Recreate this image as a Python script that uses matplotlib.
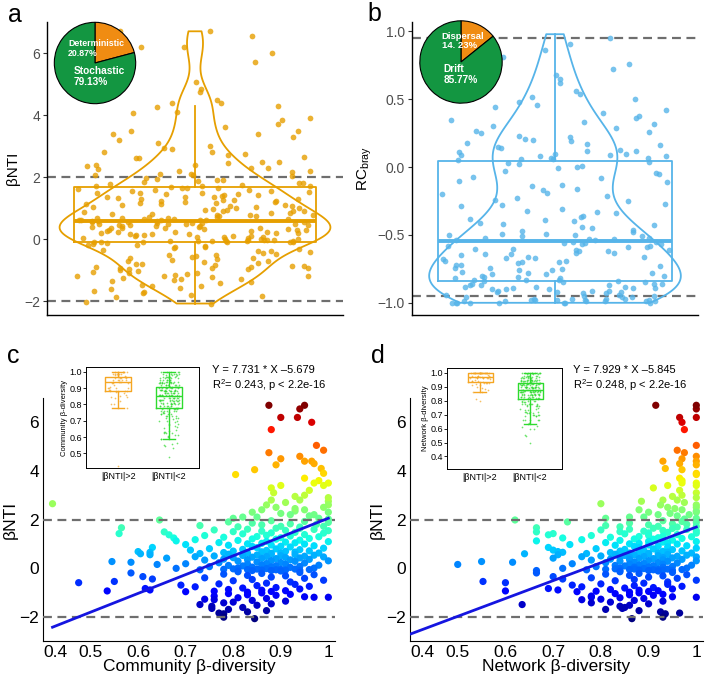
import numpy as np
import matplotlib
matplotlib.use('Agg')
import matplotlib.pyplot as plt

plt.rcParams['font.family'] = ['Liberation Sans', 'DejaVu Sans']
plt.rcParams['mathtext.fontset'] = 'custom'
plt.rcParams['mathtext.rm'] = 'Liberation Sans'
plt.rcParams['mathtext.it'] = 'Liberation Sans:italic'

# ---- data ----
# betaNTI of each pair (shared by panels a, c, d), with the community / network
# beta-diversity of the same pair
bnti = [
    6.70, 6.55, 6.70, 6.20, 6.20, 6.00, 5.70, 5.05,
    4.85, 4.75, 4.60, 4.50, 4.40, 4.40, 4.30, 4.25, 4.10, 4.05,
    3.90, 2.75, 3.85, 3.70, 2.35, 3.60, 3.50, 3.50, 3.40, 3.40, 3.30, 3.20, 3.10, 3.00,
    2.95, 2.90, 2.80, 2.80, 2.70, 2.65, 2.60, 2.60, 2.50, 2.50,
    2.45, 2.40, 2.40, 2.30, 2.30, 2.25, 2.20, 2.20, 2.15, 2.10,
    2.10, 2.05, 2.05, 2.02,
    1.98, 1.95, 1.92, 1.90, 1.88, 1.85, 1.82, 1.80, 1.78, 1.75, 1.72, 1.72, 1.70, 1.69,
    1.66, 1.64, 1.63, 1.60, 1.59, 1.57, 1.55, 1.54, 1.52, 1.50,
    1.49, 1.47, 1.45, 1.44, 1.42, 1.41, 1.38, 1.37, 1.35, 1.34,
    1.32, 1.30, 1.29, 1.27, 1.25, 1.24, 1.22, 1.20, 1.19, 1.17,
    1.15, 1.14, 1.12, 1.10, 1.09, 1.07, 1.05, 1.04, 1.02, 1.00,
    0.99, 0.97, 0.95, 0.94, 0.92, 0.90, 0.89, 0.87, 0.85, 0.84,
    0.82, 0.80, 0.79, 0.77, 0.76, 0.74, 0.73, 0.71, 0.70, 0.69,
    0.68, 0.67, 0.66, 0.65, 0.64, 0.63, 0.62, 0.62, 0.61, 0.60,
    0.59, 0.58, 0.57, 0.56, 0.55, 0.54, 0.53, 0.52, 0.51, 0.50,
    0.49, 0.48, 0.47, 0.46, 0.45, 0.44, 0.43, 0.42, 0.41, 0.40,
    0.39, 0.37, 0.36, 0.35, 0.34, 0.33, 0.31, 0.30, 0.29, 0.28,
    0.27, 0.25, 0.24, 0.23, 0.22, 0.21, 0.19, 0.18, 0.17, 0.16,
    0.15, 0.13, 0.12, 0.11, 0.10, 0.09, 0.07, 0.06, 0.05, 0.04,
    0.03, 0.01, 0.00, -0.01, -0.02, -0.03, -0.04, -0.04, -0.05, -0.05,
    -0.06, -0.06, -0.07, -0.07, -0.08, -0.08, -0.09, -0.09, -0.10, -0.10,
    -0.12, -0.15, -0.18, -0.20, -0.22, -0.25, -0.27, -0.30, -0.32, -0.35,
    -0.37, -0.40, -0.42, -0.45, -0.47, -0.50, -0.52, -0.55, -0.57, -0.60,
    -0.62, -0.65, -0.67, -0.70, -0.72, -0.75, -0.77, -0.80, -0.82, -0.84,
    -0.86, -0.88, -0.90, -0.91, -0.93, -0.94, -0.95, -0.96, -0.97, -0.99,
    -1.02, -1.05, -1.08, -1.10, -1.12, -1.15, -1.18, -1.20, -1.20, -1.22,
    -1.25, -1.28, -1.30, -1.33, -1.36, -1.40, -1.43, -1.47, -1.50, -1.53,
    -1.57, -1.62, -1.66, -1.70, -1.75, -1.80, -1.85, -1.88,
    -2.02, -2.08,
]
comm_div = [
    0.875, 0.94, 0.95, 0.90, 0.935, 0.965, 0.88, 0.975,
    0.99, 0.875, 0.94, 0.90, 0.95, 0.965, 0.97, 0.89, 0.985, 0.845,
    0.99, 1.00, 0.805, 0.95, 0.93, 0.98, 0.97, 1.00, 0.90, 0.99, 0.88, 0.96, 0.885, 0.95,
    0.93, 1.00, 0.88, 0.94, 0.91, 0.42, 0.87, 1.00, 0.89, 0.99,
    0.93, 0.86, 0.95, 0.84, 1.00, 0.90, 0.97, 0.92, 0.96, 0.85,
    0.82, 0.98, 0.80, 1.00,
    0.645, 0.88, 0.95, 0.79, 1.00, 0.84, 0.92, 0.975, 0.86, 0.73, 0.90, 0.99, 0.81, 0.94,
    0.565, 0.89, 0.94, 0.83, 0.97, 0.76, 0.91, 1.00, 0.86, 0.80,
    0.655, 0.93, 0.88, 0.99, 0.56, 0.82, 0.95, 0.665, 0.87, 0.74,
    0.92, 0.85, 0.98, 0.78, 0.90, 0.675, 0.96, 0.84, 0.89, 0.72,
    0.94, 0.81, 0.68, 0.87, 1.00, 0.91, 0.77, 0.93, 0.86, 0.83,
    0.95, 0.70, 0.88, 0.79, 0.97, 0.90, 0.84, 0.92, 0.63, 0.85,
    0.99, 0.75, 0.89, 0.82, 0.94, 0.71, 0.87, 0.96, 0.80, 0.91,
    0.60, 0.86, 0.93, 0.625, 0.78, 0.90, 0.98, 0.83, 0.88, 0.73,
    0.605, 0.88, 0.79, 0.93, 0.625, 0.85, 0.97, 0.82, 0.90, 0.76,
    0.95, 0.87, 0.72, 0.99, 0.84, 0.91, 0.80, 0.94, 0.66, 0.86,
    0.89, 0.78, 0.96, 0.83, 0.92, 0.74, 0.88, 1.00, 0.81, 0.93,
    0.545, 0.85, 0.585, 0.90, 0.77, 0.95, 0.87, 0.70, 0.83, 0.91,
    0.64, 0.86, 0.98, 0.79, 0.89, 0.82, 0.94, 0.75, 0.88, 0.84,
    0.92, 0.81, 0.97, 0.68, 0.87, 0.80, 0.93, 0.85, 0.90, 0.78,
    0.96, 0.83, 0.89, 0.73, 0.86, 0.91, 0.81, 0.94, 0.88, 0.84,
    0.90, 0.81, 0.94, 0.585, 0.86, 0.78, 0.97, 0.83, 0.91, 0.61,
    0.88, 0.74, 0.95, 0.63, 0.84, 0.99, 0.80, 0.55, 0.92, 0.475,
    0.87, 0.77, 0.93, 0.69, 0.85, 0.96, 0.72, 0.89, 0.82, 0.615,
    0.94, 0.79, 0.625, 0.86, 0.91, 0.535, 0.76, 0.88, 0.70, 0.83,
    0.86, 0.79, 0.92, 0.83, 0.89, 0.76, 0.95, 0.97, 1.00, 0.81,
    0.87, 0.74, 0.76, 0.84, 0.91, 0.80, 0.78, 0.88, 0.73, 0.85,
    0.755, 0.82, 0.755, 0.79, 0.87, 0.83, 0.77, 0.78,
    0.78, 0.845,
]
net_div = [
    0.915, 1.00, 1.00, 0.965, 1.00, 0.97, 0.975, 1.00,
    0.96, 0.975, 1.00, 0.97, 0.93, 1.00, 0.965, 1.00, 0.935, 0.97,
    1.00, 0.885, 1.00, 0.965, 1.00, 0.97, 1.00, 0.97, 0.94, 1.00, 0.91, 0.965, 1.00, 0.97,
    0.95, 1.00, 0.93, 0.96, 0.975, 0.80, 0.925, 1.00, 0.94, 1.00,
    0.955, 0.88, 0.97, 0.90, 1.00, 0.945, 0.985, 0.92, 0.96, 0.89,
    0.86, 1.00, 0.81, 0.975,
    0.62, 0.93, 0.97, 0.73, 1.00, 0.86, 0.95, 0.98, 0.90, 0.81, 0.92, 1.00, 0.84, 0.96,
    0.665, 0.91, 0.95, 0.86, 0.98, 0.80, 0.93, 1.00, 0.89, 0.84,
    0.665, 0.94, 0.90, 1.00, 0.70, 0.85, 0.96, 0.69, 0.90, 0.78,
    0.93, 0.88, 0.99, 0.82, 0.92, 0.72, 0.97, 0.87, 0.91, 0.76,
    0.95, 0.84, 0.665, 0.90, 1.00, 0.93, 0.81, 0.94, 0.88, 0.86,
    0.96, 0.735, 0.90, 0.83, 0.98, 0.92, 0.87, 0.94, 0.69, 0.88,
    1.00, 0.79, 0.91, 0.85, 0.95, 0.70, 0.89, 0.97, 0.84, 0.93,
    0.71, 0.88, 0.94, 0.72, 0.82, 0.92, 0.99, 0.86, 0.90, 0.77,
    0.64, 0.90, 0.83, 0.94, 0.71, 0.87, 0.98, 0.85, 0.92, 0.80,
    0.96, 0.89, 0.76, 1.00, 0.86, 0.93, 0.84, 0.95, 0.70, 0.88,
    0.91, 0.82, 0.97, 0.86, 0.93, 0.78, 0.90, 1.00, 0.84, 0.94,
    0.55, 0.87, 0.615, 0.92, 0.81, 0.96, 0.89, 0.74, 0.86, 0.93,
    0.50, 0.88, 0.99, 0.83, 0.91, 0.85, 0.95, 0.79, 0.90, 0.87,
    0.93, 0.84, 0.98, 0.72, 0.89, 0.83, 0.94, 0.87, 0.92, 0.81,
    0.97, 0.86, 0.91, 0.77, 0.88, 0.93, 0.84, 0.95, 0.90, 0.665,
    0.92, 0.84, 0.95, 0.665, 0.88, 0.81, 0.98, 0.86, 0.93, 0.70,
    0.90, 0.78, 0.96, 0.72, 0.87, 1.00, 0.83, 0.553, 0.94, 0.60,
    0.89, 0.80, 0.94, 0.74, 0.87, 0.97, 0.76, 0.91, 0.85, 0.69,
    0.95, 0.82, 0.71, 0.88, 0.92, 0.60, 0.79, 0.90, 0.75, 0.86,
    0.88, 0.83, 0.93, 0.86, 0.91, 0.78, 0.95, 0.78, 1.00, 0.84,
    0.89, 0.80, 0.76, 0.87, 0.93, 0.82, 0.78, 0.90, 0.635, 0.86,
    0.84, 0.85, 0.845, 0.81, 0.88, 0.925, 0.965, 0.935,
    0.93, 0.865,
]
# RC_bray of the pairs with |betaNTI| < 2 (panel b)
rc_bray = [
    0.98, 0.95, 0.91, 0.86, 0.81, 0.76, 0.72, 0.68, 0.65, 0.62,
    0.59, 0.56, 0.54, 0.52, 0.50, 0.48, 0.46, 0.44, 0.42, 0.40,
    0.38, 0.36, 0.35, 0.33, 0.32, 0.30, 0.29, 0.27, 0.26, 0.25,
    0.23, 0.22, 0.21, 0.20, 0.19, 0.18, 0.17, 0.16, 0.15, 0.14,
    0.13, 0.12, 0.12, 0.11, 0.10, 0.10, 0.09, 0.09, 0.08, 0.08,
    0.07, 0.07, 0.06, 0.06, 0.05,
    0.04, 0.03, 0.02, 0.01, 0.00, -0.01, -0.03, -0.04, -0.05, -0.07,
    -0.08, -0.10, -0.11, -0.13, -0.14, -0.16, -0.17, -0.19, -0.20, -0.21,
    -0.23, -0.24, -0.25, -0.27, -0.28, -0.29, -0.31, -0.32, -0.33, -0.34,
    -0.36, -0.37, -0.38, -0.39, -0.40, -0.41, -0.42, -0.43, -0.44, -0.45,
    -0.46, -0.47, -0.48, -0.49, -0.49, -0.50, -0.50, -0.51, -0.51, -0.52,
    -0.52, -0.53, -0.53, -0.54, -0.54,
    -0.55, -0.55, -0.56, -0.56, -0.57, -0.57, -0.58, -0.58, -0.59, -0.59,
    -0.60, -0.60, -0.61, -0.61, -0.62, -0.62, -0.63, -0.63, -0.64, -0.64,
    -0.65, -0.66, -0.66, -0.67, -0.67, -0.68, -0.69, -0.69, -0.70, -0.70,
    -0.71, -0.72, -0.72, -0.73, -0.74, -0.74, -0.75, -0.76, -0.76, -0.77,
    -0.78, -0.78, -0.79, -0.79, -0.80, -0.80, -0.81, -0.81, -0.82, -0.82,
    -0.83, -0.83, -0.83, -0.84, -0.84,
    -0.85, -0.85, -0.86, -0.86, -0.86, -0.87, -0.87, -0.87, -0.88, -0.88,
    -0.88, -0.89, -0.89, -0.89, -0.90, -0.90, -0.90, -0.91, -0.91, -0.91,
    -0.92, -0.92, -0.92, -0.93, -0.93, -0.94, -0.94, -0.95, -0.95, -0.96,
    -0.96, -0.97, -0.97, -0.97, -0.98, -0.98, -0.98, -0.98, -0.99, -0.99,
    -0.99, -0.99, -0.99, -1.00, -1.00, -1.00, -1.00, -1.00, -1.00, -1.00,
    -1.00, -0.98, -0.97, -0.99, -0.96,
]

pie_a = [20.87, 79.13]
pie_a_labels = ['Deterministic\n20.87%', 'Stochastic\n79.13%']
pie_b = [14.23, 85.77]
pie_b_labels = ['Dispersal\n14. 23%', 'Drift\n85.77%']

fit_c = (7.731, -5.679)
line_c_x = (0.42, 1.0)
fit_c_text = 'Y = 7.731 * X \u20135.679\nR$^2$= 0.243, p < 2.2e-16'
fit_d = (7.35, -5.66)   # line as drawn in the figure
line_d_x = (0.4, 1.0)
fit_d_text = 'Y = 7.929 * X \u20135.845\nR$^2$= 0.248, p < 2.2e-16'

groups = ['|\u03b2NTI|>2', '|\u03b2NTI|<2']
xticks_cd = [0.4, 0.5, 0.6, 0.7, 0.8, 0.9, 1.0]
xticklabels_cd = ['0.4', '0.5', '0.6', '0.7', '0.8', '0.9', '1']

ORANGE = '#E69F00'
BLUE = '#56B4E9'
DASH = '#6e6e6e'
PIE_OR = '#F08C12'
PIE_GR = '#139641'
BOX_OR = '#F5A623'
BOX_GR = '#2EDB2E'

bnti = np.array(bnti)
comm_div = np.array(comm_div)
net_div = np.array(net_div)
rc_bray = np.array(rc_bray)

W, H = 709, 679
fig = plt.figure(figsize=(W / 100, H / 100), dpi=100)


def px_axes(left, top, right, bottom):
    return fig.add_axes([left / W, 1 - bottom / H, (right - left) / W, (bottom - top) / H])


def jitter(n, half, seed=0.0):
    # deterministic scatter of the points across the box width
    k = np.sin((np.arange(n) + seed) * 12.9898 + 78.233) * 43758.5453
    k = k - np.floor(k)
    return half * (2 * k - 1)


def nrd0(v, adjust=1.15):
    sd = np.std(v, ddof=1)
    q75, q25 = np.percentile(v, [75, 25])
    h = 0.9 * min(sd, (q75 - q25) / 1.34) * len(v) ** -0.2
    return adjust * h / sd


def violin_panel(ax, vals, col, vwidth, ylim, yticks, dash_y, ylabel):
    ax.set_xlim(-1, 1)
    ax.set_ylim(*ylim)
    for y in dash_y:
        ax.axhline(y, color=DASH, ls=(0, (4, 2.5)), lw=1.6, zorder=1)
    parts = ax.violinplot([vals], positions=[0], widths=vwidth, showextrema=False,
                          bw_method=nrd0(vals), points=200)
    for b in parts['bodies']:
        b.set_facecolor('none')
        b.set_edgecolor(col)
        b.set_alpha(1)
        b.set_linewidth(1.3)
        b.set_zorder(2)
    ax.boxplot([vals], positions=[0], widths=1.64, showfliers=False, showcaps=False,
               boxprops=dict(color=col, lw=1.3), whiskerprops=dict(color=col, lw=1.3),
               medianprops=dict(color=col, lw=2.8), zorder=2)
    ax.scatter(jitter(len(vals), 0.8), vals, s=17, color=col, alpha=0.8, lw=0, zorder=3)
    for s in ['top', 'right']:
        ax.spines[s].set_visible(False)
    ax.spines['left'].set_linewidth(1.0)
    ax.spines['bottom'].set_linewidth(1.0)
    ax.set_xticks([])
    ax.set_yticks(yticks)
    ax.tick_params(axis='y', length=3, width=0.8, labelsize=10, labelcolor='#4D4D4D',
                   color='#333333', pad=2)
    ax.set_ylabel(ylabel, fontsize=11, labelpad=3)


def pie_inset(left, top, size, vals, labels, label_xy, fs):
    pa = px_axes(left, top, left + size, top + size)
    pa.pie(vals, colors=[PIE_OR, PIE_GR], startangle=90, counterclock=False,
           wedgeprops=dict(edgecolor='black', linewidth=0.8))
    pa.set_xlim(-1.02, 1.02)
    pa.set_ylim(-1.02, 1.02)
    pa.set_aspect('equal')
    for lab, (x, y), f in zip(labels, label_xy, fs):
        pa.text(x, y, lab, color='white', fontsize=f, fontweight='bold',
                ha='left', va='center', linespacing=1.1)


def scatter_panel(ax, xv, fit, line_x, text_xy, text, xlabel):
    ax.set_xlim(0.4, 1.014)
    ax.set_ylim(-3, 7)
    ax.scatter(xv, bnti, c=bnti, cmap='jet', vmin=bnti.min(), vmax=bnti.max(),
               s=27, lw=0, zorder=2)
    for y in [2, -2]:
        ax.axhline(y, color=DASH, ls=(0, (4, 2.5)), lw=1.6, zorder=3)
    lx = np.array(line_x)
    ax.plot(lx, fit[0] * lx + fit[1], color='#1515E0', lw=2.0, zorder=4)
    for s in ['top', 'right']:
        ax.spines[s].set_visible(False)
    ax.set_xticks(xticks_cd)
    ax.set_xticklabels(xticklabels_cd)
    ax.get_xticklabels()[0].set_ha('left')
    ax.set_yticks([-2, 0, 2, 4, 6])
    ax.tick_params(length=0, labelsize=12.5, pad=3)
    ax.set_xlabel(xlabel, fontsize=12.5, labelpad=-1)
    ax.set_ylabel('\u03b2NTI', fontsize=12.5, labelpad=1)
    fig.text(text_xy[0] / W, 1 - text_xy[1] / H, text, fontsize=8, va='center',
             linespacing=1.15)


def box_inset(ax, xv, xlim, ylim, yticks, ylabel):
    hi = xv[np.abs(bnti) > 2]
    lo = xv[np.abs(bnti) <= 2]
    for pos, vals, col in [(1, hi, BOX_OR), (2, lo, BOX_GR)]:
        ax.scatter(pos + jitter(len(vals), 0.2, pos * 7.0), vals, s=1.5, color=col,
                   alpha=0.7, lw=0, zorder=2)
        ax.boxplot([vals], positions=[pos], widths=0.5, showfliers=False,
                   boxprops=dict(color=col, lw=1.0), whiskerprops=dict(color=col, lw=1.0),
                   capprops=dict(color=col, lw=1.0), medianprops=dict(color=col, lw=1.0),
                   zorder=3)
    ax.set_xlim(*xlim)
    ax.set_ylim(*ylim)
    ax.set_xticks([1, 2])
    ax.set_xticklabels(groups)
    ax.set_yticks(yticks)
    ax.set_yticklabels(['%.1f' % t for t in yticks])
    ax.tick_params(axis='x', length=0, labelsize=6.5, pad=3)
    ax.tick_params(axis='y', length=2, width=0.6, labelsize=6.5, pad=1)
    for s in ax.spines.values():
        s.set_linewidth(0.7)
    ax.set_ylabel(ylabel, fontsize=5.5, labelpad=1)


# ---- panel a ----
ax_a = px_axes(47, 22, 343, 315)
violin_panel(ax_a, bnti, ORANGE, 1.83, (-2.45, 7.0), [-2, 0, 2, 4, 6], [2, -2], '\u03b2NTI')
pie_inset(53.5, 21.5, 83, pie_a, pie_a_labels, [(-0.66, 0.36), (-0.53, -0.34)], [6.3, 7.3])

# ---- panel b ----
ax_b = px_axes(412, 22, 698, 315)
violin_panel(ax_b, rc_bray, BLUE, 1.76, (-1.09, 1.07), [-1.0, -0.5, 0.0, 0.5, 1.0],
             [0.95, -0.95], 'RC$_{\\rm bray}$')
ax_b.set_yticklabels(['\u22121.0', '\u22120.5', '0.0', '0.5', '1.0'])
pie_inset(419, 20, 84, pie_b, pie_b_labels, [(-0.47, 0.51), (-0.42, -0.30)], [6.8, 7.3])

# ---- panel c ----
ax_c = px_axes(43, 398, 335, 641)
scatter_panel(ax_c, comm_div, fit_c, line_c_x, (212, 379), fit_c_text,
              'Community \u03b2-diversity')
ins_c = px_axes(86, 367, 199, 468)
box_inset(ins_c, comm_div, (0.37, 2.59), (0.41, 1.03), [0.5, 0.6, 0.7, 0.8, 0.9, 1.0],
          'Community \u03b2-diversity')

# ---- panel d ----
ax_d = px_axes(410, 398, 703, 641)
scatter_panel(ax_d, net_div, fit_d, line_d_x, (573, 379), fit_d_text,
              'Network \u03b2-diversity')
ins_d = px_axes(447, 368, 562, 469)
box_inset(ins_d, net_div, (0.34, 2.64), (0.31, 1.035), [0.4, 0.5, 0.6, 0.7, 0.8, 0.9, 1.0],
          'Network \u03b2-diversity')

# panel letters
for lab, x, y in [('a', 8, 22), ('b', 367, 21), ('c', 7, 363), ('d', 371, 363)]:
    fig.text(x / W, 1 - y / H, lab, fontsize=18, va='baseline')

fig.savefig('out.png', dpi=100)
